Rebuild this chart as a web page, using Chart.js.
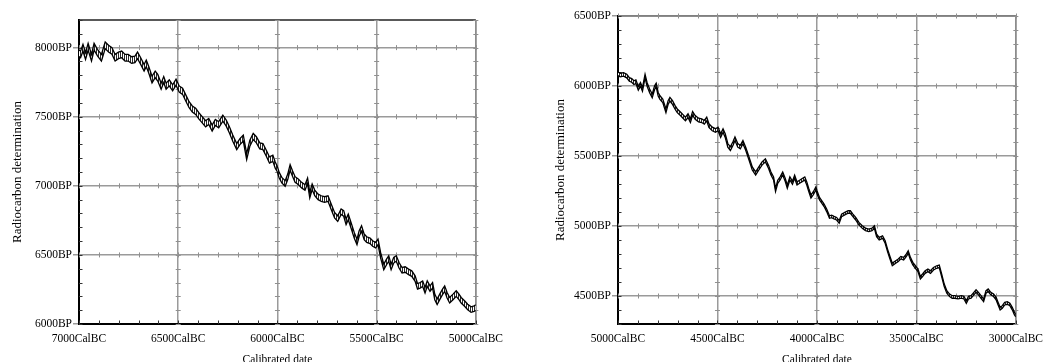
<!DOCTYPE html>
<html><head><meta charset="utf-8">
<script src="https://cdn.jsdelivr.net/npm/chart.js@4.4.1/dist/chart.umd.min.js"></script>
<style>
html,body{margin:0;padding:0;background:#fff;overflow:hidden;width:1051px;height:362px;}
.box{position:absolute;top:0;height:372px;}
#b1{left:0;width:511px;}
#b2{left:511px;width:540px;}
</style></head><body>
<div class="box" id="b1"><canvas id="c1"></canvas></div>
<div class="box" id="b2"><canvas id="c2"></canvas></div>
<script>
// ---------- Left panel (7000 - 5000 CalBC) ----------
const leftYears = [
 7000,6992,6980,6967,6954,6937,6924,6907,6887,6868,
 6851,6834,6818,6801,6785,6768,6752,6735,6718,6705,
 6689,6672,6661,6649,6632,6616,6603,6586,6573,6561,
 6545,6528,6511,6495,6478,6462,6445,6429,6412,6396,
 6379,6362,6346,6329,6313,6296,6275,6258,6242,6225,
 6205,6189,6172,6155,6139,6122,6106,6089,6073,6056,
 6040,6023,6011,6002,5991,5978,5961,5948,5936,5924,
 5911,5895,5878,5861,5848,5837,5825,5812,5795,5779,
 5762,5745,5729,5712,5696,5679,5666,5654,5643,5629,
 5613,5599,5588,5576,5563,5550,5533,5520,5505,5493,
 5480,5464,5450,5439,5427,5414,5401,5387,5372,5356,
 5339,5323,5306,5294,5281,5268,5256,5245,5231,5218,
 5207,5195,5182,5168,5157,5145,5132,5115,5099,5085,
 5074,5057,5041,5024,5009,5000];
const leftMid = [
 7959,7951,8000,7939,8007,7927,8007,7964,7927,8017,
 7993,7976,7927,7944,7951,7927,7927,7910,7915,7944,
 7903,7854,7886,7842,7769,7806,7782,7721,7769,7721,
 7745,7709,7750,7701,7684,7636,7587,7556,7539,7507,
 7478,7449,7466,7418,7459,7442,7490,7454,7405,7345,
 7284,7320,7345,7211,7308,7357,7333,7289,7284,7236,
 7187,7199,7150,7126,7077,7041,7017,7065,7133,7089,
 7046,7029,7005,6988,7036,6932,6993,6949,6920,6908,
 6901,6908,6848,6787,6763,6812,6800,6739,6775,6715,
 6643,6594,6655,6691,6631,6611,6602,6582,6570,6594,
 6498,6413,6449,6474,6413,6461,6474,6425,6389,6394,
 6377,6365,6329,6273,6280,6292,6244,6292,6256,6280,
 6196,6160,6196,6232,6256,6208,6172,6196,6220,6196,
 6172,6148,6123,6104,6111,6118];
const leftErr = [
 24,24,24,24,24,24,24,24,24,24,
 24,24,24,24,24,24,24,24,24,24,
 24,24,24,24,24,24,24,22,22,22,
 22,22,22,22,22,22,22,22,22,22,
 22,22,22,22,22,22,22,22,22,22,
 22,22,22,22,22,22,22,22,22,22,
 22,22,22,20,20,20,20,20,20,20,
 20,20,20,20,20,20,20,20,20,20,
 20,20,20,20,20,20,20,20,20,20,
 20,20,20,20,20,20,20,20,20,20,
 20,20,20,20,20,20,20,20,20,20,
 20,20,20,20,20,20,20,20,20,20,
 20,20,20,20,20,20,20,20,20,20,
 20,20,20,20,20,20];
const leftXTicks = [7000,6500,6000,5500,5000];
const leftYTicks = [6000,6500,7000,7500,8000];

// ---------- Right panel (5000 - 3000 CalBC) ----------
const rightYears = [
 5000,4989,4972,4956,4943,4931,4920,4910,4898,4887,
 4877,4864,4854,4841,4828,4816,4808,4798,4789,4775,
 4759,4748,4739,4726,4713,4702,4685,4672,4661,4648,
 4636,4625,4612,4595,4579,4566,4554,4543,4526,4510,
 4497,4484,4472,4461,4448,4435,4421,4412,4398,4385,
 4372,4358,4341,4325,4308,4292,4276,4259,4243,4231,
 4218,4208,4197,4185,4172,4159,4149,4136,4123,4112,
 4100,4087,4074,4061,4051,4041,4030,4018,4005,4000,
 3987,3975,3964,3951,3937,3926,3914,3901,3888,3876,
 3860,3843,3832,3819,3805,3789,3772,3756,3739,3723,
 3711,3700,3687,3670,3657,3645,3634,3621,3604,3591,
 3578,3564,3551,3541,3530,3518,3505,3492,3480,3469,
 3456,3442,3429,3414,3398,3385,3373,3360,3347,3333,
 3320,3307,3290,3274,3261,3249,3238,3225,3211,3200,
 3188,3175,3162,3150,3139,3126,3112,3099,3089,3079,
 3068,3056,3043,3030,3018,3007,3000];
const rightMid = [
 6087,6078,6083,6071,6047,6040,6024,6031,5983,6012,
 5976,6071,6012,5965,5929,5988,6007,5941,5917,5894,
 5823,5882,5906,5882,5847,5823,5800,5781,5764,5788,
 5752,5804,5776,5757,5752,5741,5764,5717,5693,5682,
 5693,5646,5682,5646,5576,5552,5592,5623,5576,5564,
 5599,5552,5481,5411,5375,5411,5446,5469,5422,5375,
 5340,5257,5316,5340,5375,5328,5281,5340,5309,5352,
 5304,5316,5328,5340,5304,5257,5210,5234,5269,5243,
 5195,5171,5148,5112,5064,5069,5060,5052,5029,5076,
 5088,5100,5100,5076,5052,5017,4993,4976,4969,4976,
 4993,4933,4910,4921,4886,4826,4779,4726,4743,4755,
 4774,4767,4790,4814,4767,4731,4707,4683,4631,4648,
 4671,4683,4671,4695,4707,4712,4648,4576,4529,4505,
 4493,4493,4488,4493,4488,4457,4488,4493,4517,4536,
 4517,4493,4469,4529,4541,4517,4505,4481,4445,4410,
 4422,4445,4450,4440,4410,4374,4360];
const rightErr = [
 13,13,13,13,13,13,13,13,13,13,
 13,13,13,13,13,13,13,13,13,13,
 13,13,13,13,13,13,13,13,13,13,
 13,13,13,13,13,13,13,13,13,13,
 13,13,13,13,13,13,13,13,13,13,
 11,11,11,11,11,11,11,11,11,11,
 11,11,11,11,11,11,11,11,11,11,
 11,11,11,11,11,11,11,11,11,11,
 9,9,9,9,9,9,9,9,9,9,
 9,9,9,9,9,9,9,9,9,9,
 9,9,9,9,9,9,9,9,9,9,
 9,9,9,9,9,9,9,9,9,9,
 9,9,9,9,9,9,9,9,9,9,
 9,9,9,9,9,9,9,9,9,9,
 9,9,9,9,9,9,9,9,9,9,
 9,9,9,9,9,9,9];
const rightXTicks = [5000,4500,4000,3500,3000];
const rightYTicks = [4500,5000,5500,6000,6500];

const minorStep = 100;

// ---------- helpers ----------
function hatchPattern(){
  const c = document.createElement('canvas'); c.width = 2; c.height = 1;
  const g = c.getContext('2d');
  g.fillStyle = '#ffffff'; g.fillRect(0,0,2,1);
  g.fillStyle = '#2a2a2a'; g.fillRect(0,0,1,1);
  return g.createPattern(c,'repeat');
}

const decor = {
  id: 'decor',
  beforeDatasetsDraw(chart){
    const o = chart.options.plugins.decor;
    const {ctx, chartArea: a} = chart;
    const x = chart.scales.x, y = chart.scales.y;
    ctx.save();
    ctx.lineWidth = 1.5;
    ctx.strokeStyle = o.topColor;
    ctx.beginPath(); ctx.moveTo(a.left, a.top); ctx.lineTo(a.right, a.top); ctx.stroke();
    ctx.strokeStyle = '#8a8a8a';
    ctx.beginPath(); ctx.moveTo(a.right, a.top); ctx.lineTo(a.right, a.bottom); ctx.stroke();
    ctx.lineWidth = 1; ctx.strokeStyle = '#909090';
    ctx.beginPath();
    const ylo = Math.min(y.min, y.max), yhi = Math.max(y.min, y.max);
    const xlo = Math.min(x.min, x.max), xhi = Math.max(x.min, x.max);
    for (let v = Math.ceil(ylo/minorStep)*minorStep; v <= yhi; v += minorStep){
      const py = Math.round(y.getPixelForValue(v)) + 0.5;
      for (const t of o.xMajor){
        const px = x.getPixelForValue(t);
        if (Math.abs(px - a.left) < 1) continue;
        ctx.moveTo(px - 2.5, py); ctx.lineTo(px + 2.5, py);
      }
    }
    for (let v = Math.ceil(xlo/minorStep)*minorStep; v <= xhi; v += minorStep){
      const px = Math.round(x.getPixelForValue(v)) + 0.5;
      for (const t of o.yMajor){
        const py = y.getPixelForValue(t);
        if (Math.abs(py - a.bottom) < 1) continue;
        ctx.moveTo(px, py - 2.5); ctx.lineTo(px, py + 2.5);
      }
    }
    ctx.stroke();
    ctx.strokeStyle = '#333'; ctx.beginPath();
    for (let v = Math.ceil(ylo/minorStep)*minorStep; v <= yhi; v += minorStep){
      const py = Math.round(y.getPixelForValue(v)) + 0.5;
      ctx.moveTo(a.left, py); ctx.lineTo(a.left + 3.5, py);
    }
    for (let v = Math.ceil(xlo/minorStep)*minorStep; v <= xhi; v += minorStep){
      const px = Math.round(x.getPixelForValue(v)) + 0.5;
      ctx.moveTo(px, a.bottom); ctx.lineTo(px, a.bottom - 3.5);
    }
    ctx.stroke();
    ctx.restore();
  }
};

const serif = "'Liberation Serif', 'Times New Roman', serif";

function makeChart(id, cfg){
  const up = cfg.years.map((yr, i) => ({x: yr, y: cfg.mid[i] + cfg.err[i]}));
  const lo = cfg.years.map((yr, i) => ({x: yr, y: cfg.mid[i] - cfg.err[i]}));
  const pat = hatchPattern();
  return new Chart(document.getElementById(id), {
    type: 'line',
    data: {
      datasets: [
        {data: up, borderColor: '#000', borderWidth: 1.3, pointRadius: 0, fill: false, tension: 0},
        {data: lo, borderColor: '#000', borderWidth: 1.3, pointRadius: 0, tension: 0,
         fill: {target: '-1'}, backgroundColor: pat}
      ]
    },
    options: {
      responsive: true, maintainAspectRatio: false, animation: false,
      layout: {padding: {top: cfg.padTop, right: cfg.padRight, left: 0, bottom: 0}},
      plugins: {
        legend: {display: false}, tooltip: {enabled: false},
        decor: {xMajor: cfg.xTicks, yMajor: cfg.yTicks, topColor: cfg.topColor}
      },
      scales: {
        x: {
          type: 'linear', reverse: true, min: cfg.xMin, max: cfg.xMax,
          afterBuildTicks: s => { s.ticks = cfg.xTicks.map(v => ({value: v})); },
          afterFit: s => { s.height = 48; },
          grid: {color: '#9a9a9a', lineWidth: 1.5, drawTicks: false},
          border: {display: true, color: '#000', width: 2},
          ticks: {autoSkip: false, maxRotation: 0, padding: 8, color: '#000',
                  font: {family: serif, size: 11.5}, callback: v => v + 'CalBC'},
          title: {display: true, text: 'Calibrated date', color: '#000',
                  font: {family: serif, size: 11.5}, padding: {top: 0, bottom: 5}}
        },
        y: {
          type: 'linear', min: cfg.yMin, max: cfg.yMax,
          afterBuildTicks: s => { s.ticks = cfg.yTicks.map(v => ({value: v})); },
          afterFit: s => { s.width = cfg.yWidth; },
          grid: {color: '#9a9a9a', lineWidth: 1.5, drawTicks: true, tickLength: 6, tickColor: '#9a9a9a'},
          border: {display: true, color: '#000', width: 2},
          ticks: {padding: 1, color: '#000', font: {family: serif, size: 11.5}, callback: v => v + 'BP'},
          title: {display: true, text: 'Radiocarbon determination', color: '#000',
                  font: {family: serif, size: 13}, padding: {top: cfg.titlePad, bottom: 0}}
        }
      }
    },
    plugins: [decor]
  });
}

makeChart('c1', {years: leftYears, mid: leftMid, err: leftErr, xTicks: leftXTicks, yTicks: leftYTicks,
  xMin: 5000, xMax: 7000, yMin: 6000, yMax: 8200, padTop: 20, padRight: 30, yWidth: 79, titlePad: 10, topColor: '#222'});
makeChart('c2', {years: rightYears, mid: rightMid, err: rightErr, xTicks: rightXTicks, yTicks: rightYTicks,
  xMin: 3000, xMax: 5000, yMin: 4300, yMax: 6500, padTop: 16, padRight: 28, yWidth: 107, titlePad: 42, topColor: '#777'});
</script>
</body></html>
